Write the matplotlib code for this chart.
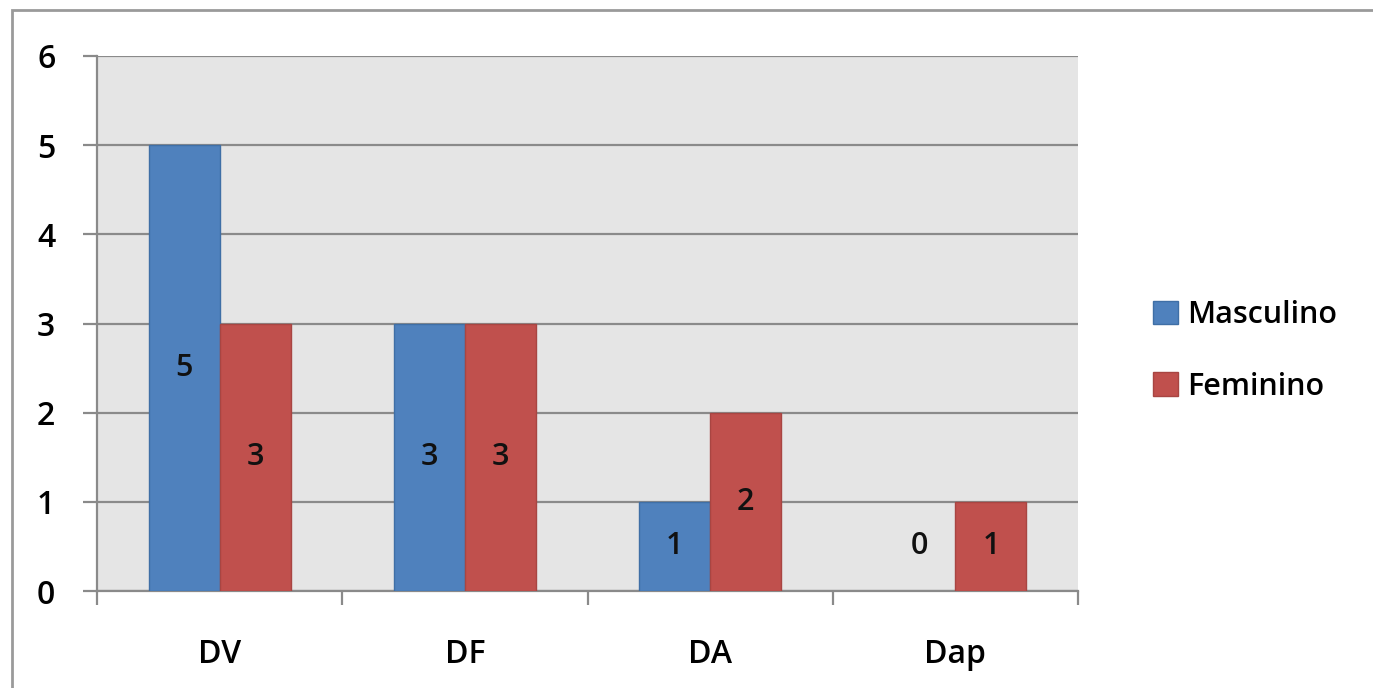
import matplotlib.pyplot as plt
import numpy as np
from matplotlib.patches import Rectangle

categories = ["DV", "DF", "DA", "Dap"]
masculino = [5, 3, 1, 0]
feminino = [3, 3, 2, 1]
series_names = ["Masculino", "Feminino"]
y_ticks = [0, 1, 2, 3, 4, 5, 6]

blue = "#4F81BD"
red = "#C0504D"
grid_col = "#8A8A8A"

plt.rcParams['font.family'] = ['Open Sans', 'DejaVu Sans']
plt.rcParams['font.weight'] = 'semibold'

fig = plt.figure(figsize=(13.73, 6.88), dpi=100)
ax = fig.add_axes([97 / 1373, 1 - 591 / 688, (1078 - 97) / 1373, (591 - 56) / 688])
ax.set_facecolor("#E5E5E5")

# outer chart frame
fig.patches.append(Rectangle((12 / 1373, -0.1), 1.2, 1 - 10 / 688 + 0.1,
                             transform=fig.transFigure, fill=False,
                             edgecolor="#9A9A9A", linewidth=2.0))

x = np.arange(len(categories))
w = 0.29
b1 = ax.bar(x - w / 2, masculino, w, color=blue,
            edgecolor=["#3F6FA6" if v else "none" for v in masculino],
            linewidth=1.0, label=series_names[0], zorder=3)
b2 = ax.bar(x + w / 2, feminino, w, color=red,
            edgecolor=["#A84542" if v else "none" for v in feminino],
            linewidth=1.0, label=series_names[1], zorder=3)

# value labels in the middle of each bar
for xs, vals in ((x - w / 2, masculino), (x + w / 2, feminino)):
    for xi, v in zip(xs, vals):
        yi = v / 2 if v > 0 else 0.5
        ax.text(xi, yi, str(v), ha="center", va="center", fontsize=22,
                color="#111111", zorder=4)

ax.set_ylim(0, 6)
ax.set_xlim(-0.5, len(categories) - 0.5)
ax.set_yticks(y_ticks)
ax.yaxis.grid(True, color=grid_col, linewidth=1.6, zorder=1)
ax.set_axisbelow(True)

# category boundaries as major ticks, names as minor ticks
ax.set_xticks(np.arange(len(categories) + 1) - 0.5)
ax.set_xticklabels([])
ax.set_xticks(x, minor=True)
ax.set_xticklabels(categories, minor=True)
ax.tick_params(axis="x", which="major", length=10, width=1.6, color=grid_col)
ax.tick_params(axis="x", which="minor", length=0, pad=34, labelsize=23)
ax.tick_params(axis="y", length=10, width=1.6, color=grid_col, pad=20,
               labelsize=23)

for side in ("top", "right"):
    ax.spines[side].set_visible(False)
for side in ("left", "bottom"):
    ax.spines[side].set_color(grid_col)
    ax.spines[side].set_linewidth(1.6)

fig.legend(handles=[b1, b2], loc="center left",
           bbox_to_anchor=(1141 / 1373, 1 - 351 / 688), frameon=False,
           fontsize=22, handlelength=0.8, handleheight=0.8,
           handletextpad=0.3, labelspacing=1.35, borderaxespad=0)

fig.savefig("out.png", dpi=100)
